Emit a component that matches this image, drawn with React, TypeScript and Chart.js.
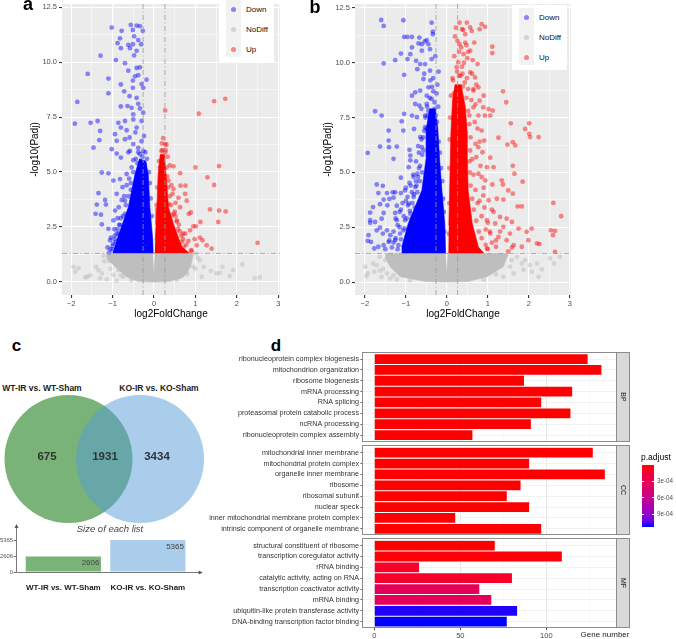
import React, { useEffect, useRef } from 'react';
import { Chart, registerables } from 'chart.js';

Chart.register(...registerables);

const FONT = "'Liberation Sans', Arial, Helvetica, sans-serif";
Chart.defaults.font.family = FONT;

// ================= Panels a / b : volcano plots =================
const FC_CUT = 0.263; // |log2FoldChange| threshold
const PADJ_CUT = 1.301; // -log10(0.05)
const volcanoXTicks = [-2, -1.5, -1, -0.5, 0, 0.5, 1, 1.5, 2, 2.5, 3];
const volcanoYTicks = [0, 1.25, 2.5, 3.75, 5, 6.25, 7.5, 8.75, 10, 11.25, 12.5];
const volcanoGroups = ['Down', 'NoDiff', 'Up'];

// saturated (overplotted) cores, outline as [x, y, x, y, ...]
const aGreyCore = [-1.15, 1.29, -0.03, 1.29, 0, 0.3, 0.03, 1.29, 0.95, 1.29, 0.88, 0.7, 0.72, 0.24, 0.4, 0.03, 0, 0, -0.4, 0.03, -0.66, 0.24, -0.94, 0.69, -1.15, 1.1];
const aBlueCore = [-1.0, 1.32, -0.02, 1.32, -0.03, 1.9, -0.1, 3.4, -0.14, 4.9, -0.2, 5.5, -0.35, 5.6, -0.46, 4.9, -0.62, 3.4, -0.9, 1.9];
const aRedCore = [0.02, 1.32, 0.85, 1.32, 0.67, 1.6, 0.47, 2.64, 0.35, 3.39, 0.29, 4.9, 0.25, 5.8, 0.15, 5.8, 0.1, 4.9, 0.07, 3.39, 0.05, 2.6, 0.03, 1.9];
// individual genes
const aBlue = [-1.02, 11.57, -0.78, 11.42, -0.82, 11.08, -0.56, 11.69, -0.42, 11.66, -0.34, 11.63, -0.51, 11.46, -0.27, 11.42, -0.48, 11.17, -0.38, 11.0, -0.62, 10.78, -0.51, 10.81, -0.31, 10.81, -0.58, 10.63, -0.42, 10.51, -0.88, 10.86, -0.8, 10.63, -1.29, 10.29, -0.92, 10.09, -1.6, 9.46, -1.1, 9.25, -0.62, 9.61, -0.42, 9.73, -0.34, 9.76, -0.46, 9.35, -0.38, 9.4, -0.51, 9.16, -0.18, 9.2, -0.26, 8.83, -0.51, 8.83, -0.8, 8.98, -1.1, 8.58, -0.72, 8.67, -0.59, 8.45, -0.42, 8.37, -1.85, 8.19, -0.8, 7.98, -0.54, 7.92, -0.34, 7.89, -0.5, 7.62, -1.91, 7.2, -1.53, 7.24, -1.36, 7.32, -1.3, 6.87, -0.86, 7.24, -0.7, 7.32, -0.5, 7.39, -0.3, 7.32, -0.94, 6.72, -0.8, 7.02, -0.42, 7.02, -0.59, 6.57, -1.32, 6.45, -1.46, 6.11, -0.9, 6.42, -0.7, 6.49, -0.5, 6.27, -0.24, 6.64, -1.02, 6.04, -0.9, 5.84, -0.58, 5.96, -0.34, 5.81, -0.8, 5.66, -0.5, 5.54, -1.26, 4.98, -1.1, 4.94, -0.98, 4.61, -0.82, 4.68, -1.34, 4.04, -1.18, 3.73, -1.38, 3.52, -1.16, 3.52, -1.41, 3.1, -1.28, 3.06, -1.26, 2.62, -0.9, 4.01, -0.78, 3.73, -0.94, 3.25, -0.98, 2.8, -1.1, 2.42, -1.04, 2.02, -1.12, 1.57, -1.0, 1.48, -0.92, 1.82, -0.86, 2.2, -0.76, 4.31, -0.66, 4.91, -0.54, 5.21, -0.22, 5.36, -0.3, 4.91, -0.62, 5.9, -0.38, 6.1, -0.28, 5.7, -0.66, 4.4, -0.72, 3.9, -0.85, 3.4, -0.88, 2.9, -0.96, 2.4, -1.06, 1.9, -1.0, 1.65, -0.95, 2.1, -0.84, 2.6, -0.7, 3.1, -0.56, 4.2, -0.4, 5.4, -0.21, 5.9, -0.3, 6.4, -0.45, 6.8, -0.66, 6.9, -0.26, 7.7, -0.38, 8.1, -0.64, 8.0, -0.3, 9.0, -0.7, 9.95, -0.48, 10.3, -1.05, 1.5, -0.98, 1.75, -0.9, 2.2, -0.82, 2.6, -0.75, 3.0, -0.68, 3.5, -0.62, 3.9, -0.56, 4.5, -0.5, 5.0, -0.44, 5.6, -0.38, 5.9, -0.26, 5.95, -0.17, 5.6, -0.12, 5.0, -0.1, 4.5, -0.08, 3.8, -0.05, 3.0, -0.6, 4.7, -0.7, 3.7, -0.8, 2.9, -0.88, 2.4, -0.95, 1.95, -1.08, 1.35];
const aRed = [0.27, 7.8, 1.08, 7.65, 1.45, 8.22, 1.72, 8.33, 0.22, 6.54, 0.27, 6.27, 0.3, 6.24, 0.22, 5.66, 0.47, 5.26, 0.63, 4.95, 1.0, 5.21, 1.57, 5.27, 1.29, 4.76, 1.45, 4.41, 0.64, 4.38, 0.76, 4.38, 0.47, 4.23, 0.45, 4.01, 0.75, 4.01, 0.59, 3.83, 1.35, 3.3, 1.57, 3.25, 1.73, 3.21, 0.84, 3.1, 0.89, 3.16, 0.35, 3.55, 0.63, 3.4, 1.55, 2.73, 1.12, 2.73, 0.95, 2.53, 1.01, 2.53, 0.87, 2.35, 0.75, 2.2, 1.11, 2.02, 1.17, 1.9, 1.27, 1.67, 1.39, 1.52, 1.03, 1.67, 2.5, 1.78, 0.83, 1.87, 0.67, 1.82, 0.55, 2.8, 0.43, 3.03, 0.79, 3.7, 0.35, 4.61, 0.18, 5.96, 0.14, 5.21, 0.38, 5.3, 0.33, 5.7, 0.52, 3.6, 0.58, 2.4, 0.66, 2.1, 0.72, 1.6, 0.9, 1.45, 0.98, 1.95, 0.5, 3.2, 0.42, 4.4, 0.28, 6.0, 0.19, 6.3, 0.9, 1.4, 0.78, 1.7, 0.7, 1.95, 0.62, 2.3, 0.55, 2.75, 0.48, 3.1, 0.41, 3.5, 0.38, 3.9, 0.34, 4.3, 0.32, 4.8, 0.3, 5.2, 0.27, 5.9, 0.2, 6.0, 0.12, 5.5, 0.08, 4.3, 0.06, 3.5, 0.7, 2.2, 0.6, 2.6, 0.52, 3.0];
const aGrey = [-1.94, 0.69, -1.82, 0.62, -1.9, 0.47, -1.61, 0.24, -1.66, 0.21, -1.54, 0.3, -1.4, 0.69, -1.34, 0.54, -1.26, 0.39, -1.3, 0.17, -1.14, 0.12, -1.08, 0.96, -0.98, 0.32, -0.9, 0.06, 1.11, 0.99, 1.2, 0.69, 1.15, 0.24, 1.37, 0.51, 1.51, 0.39, 1.59, 0.42, 1.65, 0.69, 1.83, 0.27, 1.91, 0.54, 2.13, 0.8, 2.43, 0.17, 2.55, 0.21, 1.01, 1.3, 0.87, 0.99, 0.95, 0.69, 0.79, 0.47, 0.63, 0.24, -0.74, 0.24, -0.86, 0.54, -0.94, 0.84, -1.2, 0.95, -1.05, 0.6, -0.8, 0.3, -0.55, 0.08, 0.55, 0.1, 0.8, 0.35, 1.0, 0.6, 1.05, 1.1, -1.22, 1.2];

const bGreyCore = [-1.5, 1.29, -0.03, 1.29, 0, 0.3, 0.03, 1.29, 1.5, 1.29, 1.38, 0.7, 0.98, 0.24, 0.5, 0.02, 0, 0, -0.5, 0.02, -1.14, 0.24, -1.38, 0.7, -1.5, 1.1];
const bBlueCore = [-1.1, 1.32, -0.03, 1.32, -0.05, 2.67, -0.12, 4.18, -0.18, 5.7, -0.22, 7.0, -0.28, 7.9, -0.42, 7.9, -0.5, 7.0, -0.5, 5.7, -0.61, 4.18, -0.94, 2.67, -1.1, 1.6];
const bRedCore = [0.04, 1.32, 0.9, 1.32, 0.77, 1.6, 0.62, 2.67, 0.52, 4.2, 0.5, 5.7, 0.5, 6.8, 0.45, 8.0, 0.35, 9.0, 0.2, 9.0, 0.14, 8.3, 0.1, 6.8, 0.07, 4.2, 0.05, 2.6];
const bBlue = [-1.6, 11.95, -1.54, 11.68, -1.06, 11.94, -0.37, 11.83, -0.34, 11.42, -0.34, 11.3, -1.04, 11.18, -0.96, 11.18, -0.85, 11.18, -0.67, 11.15, -0.69, 10.88, -0.61, 10.85, -0.54, 10.97, -0.49, 11.03, -0.45, 10.85, -0.85, 10.7, -0.61, 10.55, -0.89, 10.39, -0.41, 10.62, -1.12, 10.42, -1.26, 10.12, -1.54, 9.97, -0.96, 10.17, -0.75, 10.09, -0.65, 9.94, -0.53, 9.94, -0.37, 10.17, -1.04, 9.45, -0.72, 9.71, -0.41, 9.64, -0.57, 9.26, -0.45, 8.88, -0.77, 8.65, -0.65, 8.73, -0.85, 8.5, -0.49, 8.5, -0.33, 8.7, -0.77, 8.12, -0.67, 8.05, -0.49, 8.12, -0.37, 8.35, -1.75, 7.79, -1.59, 7.59, -1.04, 7.67, -0.85, 7.59, -0.73, 7.52, -0.53, 7.59, -1.1, 7.33, -1.42, 6.91, -1.06, 6.91, -0.8, 6.98, -0.53, 7.06, -1.42, 6.45, -1.63, 6.18, -1.41, 6.15, -1.22, 6.18, -1.3, 5.62, -1.93, 5.89, -0.91, 6.03, -0.89, 5.77, -0.89, 5.55, -0.65, 6.61, -0.61, 6.15, -0.93, 5.24, -0.81, 4.79, -0.91, 4.52, -1.12, 4.76, -1.71, 4.45, -1.56, 4.39, -1.67, 4.06, -1.46, 4.06, -1.32, 4.09, -1.26, 4.09, -1.12, 4.06, -1.02, 4.18, -0.96, 3.88, -1.8, 3.42, -1.87, 3.17, -1.63, 3.55, -1.54, 3.76, -1.4, 3.79, -1.3, 3.85, -1.45, 3.5, -1.22, 3.48, -1.54, 3.15, -1.12, 3.3, -1.87, 2.82, -1.87, 2.7, -1.75, 2.74, -1.59, 2.89, -1.22, 2.82, -1.26, 3.15, -1.91, 2.14, -1.93, 1.88, -1.85, 1.83, -1.77, 1.53, -1.71, 2.36, -1.63, 2.48, -1.56, 2.21, -1.46, 2.36, -1.38, 2.14, -1.67, 1.61, -1.54, 1.68, -1.42, 1.83, -1.34, 1.58, -1.26, 1.91, -1.14, 2.21, -1.18, 1.68, -1.06, 2.36, -1.02, 2.82, -0.89, 3.12, -0.93, 3.58, -0.81, 3.88, -0.77, 4.33, -0.72, 4.94, -1.2, 1.5, -1.3, 1.8, -1.15, 2.5, -1.05, 3.0, -0.95, 3.5, -0.85, 4.1, -0.75, 4.6, -0.68, 5.2, -0.6, 5.8, -0.58, 6.6, -0.5, 7.0, -0.45, 7.8, -0.3, 7.9, -0.25, 8.6, -0.4, 9.2, -0.2, 9.6, -0.28, 10.3, -0.55, 9.5, -0.62, 7.9, -0.7, 6.2, -1.0, 3.7, -1.25, 2.9, -1.4, 1.9, -1.5, 1.5, -1.12, 1.95, -1.03, 2.45, -0.98, 2.9, -0.9, 3.25, -0.84, 3.6, -0.8, 4.0, -0.74, 4.4, -0.7, 4.8, -0.65, 5.3, -0.6, 5.0, -0.57, 6.0, -0.55, 6.9, -0.52, 7.5, -0.48, 8.0, -0.42, 8.4, -0.36, 8.9, -0.3, 8.2, -0.27, 7.6, -0.24, 7.3, -0.2, 6.4, -0.17, 5.9, -0.14, 5.2, -0.11, 4.6, -0.09, 3.8, -0.07, 3.2, -0.06, 2.3, -0.72, 4.1, -0.78, 3.4, -0.86, 2.9, -0.93, 2.4, -0.66, 4.6, -0.62, 6.5, -0.47, 7.6, -0.38, 7.7, -0.33, 9.3, -0.23, 9.0, -0.21, 8.0, -0.68, 5.9, -0.75, 5.5, -0.82, 4.9, -0.88, 4.4, -1.0, 4.3, -1.08, 3.6, -1.15, 3.2, -1.2, 2.6, -1.3, 2.3, -1.25, 2.0];
const bRed = [0.31, 11.83, 0.49, 11.83, 0.57, 11.61, 0.37, 11.53, 0.85, 11.76, 0.93, 11.64, 0.8, 11.53, 0.61, 11.45, 0.45, 11.3, 0.31, 10.85, 0.45, 10.92, 0.67, 10.92, 1.11, 10.73, 1.11, 10.44, 0.41, 10.39, 0.57, 10.55, 0.5, 10.21, 0.63, 10.12, 0.28, 10.02, 0.37, 9.82, 0.75, 9.94, 0.57, 9.56, 0.33, 9.41, 0.49, 9.3, 0.69, 9.33, 0.39, 8.91, 0.77, 8.88, 0.18, 8.61, 0.65, 8.73, 1.37, 8.7, 1.45, 8.2, 0.8, 8.27, 0.89, 7.97, 1.02, 7.89, 1.12, 7.82, 0.65, 7.97, 0.77, 7.59, 0.93, 7.59, 1.06, 7.59, 0.23, 7.85, 0.18, 6.45, 0.23, 6.3, 0.85, 6.91, 0.91, 6.45, 1.26, 6.58, 1.48, 6.27, 1.56, 7.24, 1.67, 6.23, 1.61, 6.38, 1.91, 6.98, 2.01, 7.24, 2.01, 6.76, 2.03, 6.61, 2.24, 6.61, 0.77, 6.15, 0.87, 5.92, 1.06, 5.67, 0.98, 5.24, 1.14, 5.24, 1.61, 5.3, 1.65, 4.94, 0.77, 4.94, 0.85, 4.79, 0.94, 4.64, 1.34, 4.64, 1.37, 4.45, 1.85, 4.58, 1.11, 4.45, 1.5, 4.18, 1.61, 4.03, 0.89, 3.95, 1.02, 3.73, 1.22, 3.8, 1.38, 3.76, 1.73, 3.45, 1.83, 3.45, 2.6, 3.61, 2.79, 3.0, 1.14, 3.2, 1.3, 2.97, 1.46, 2.89, 1.59, 2.74, 0.98, 2.82, 1.18, 2.67, 1.38, 2.52, 1.75, 2.44, 2.07, 2.44, 1.95, 2.29, 2.54, 2.36, 2.64, 2.33, 2.59, 2.14, 1.54, 2.21, 1.06, 2.21, 1.26, 2.06, 1.46, 1.91, 1.63, 1.68, 1.99, 1.91, 2.2, 1.76, 2.26, 1.73, 1.83, 1.61, 1.59, 1.58, 2.64, 1.38, 1.2, 1.61, 0.98, 1.53, 1.0, 1.5, 1.2, 1.9, 0.95, 2.4, 0.85, 3.0, 0.75, 3.6, 0.7, 4.2, 0.65, 4.9, 0.62, 5.6, 0.7, 6.3, 0.68, 7.3, 0.55, 7.6, 0.6, 8.3, 0.52, 8.8, 0.25, 9.6, 0.15, 9.2, 0.3, 10.5, 0.2, 11.2, 0.72, 9.0, 0.9, 8.5, 1.1, 3.3, 1.3, 2.3, 1.5, 1.4, 0.95, 1.7, 0.85, 2.0, 0.78, 2.3, 0.72, 2.8, 0.66, 3.3, 0.62, 3.8, 0.58, 4.4, 0.56, 5.0, 0.55, 5.5, 0.57, 6.0, 0.58, 6.6, 0.55, 7.2, 0.52, 7.8, 0.48, 8.4, 0.44, 9.1, 0.38, 9.5, 0.3, 9.4, 0.24, 9.8, 0.18, 10.3, 0.14, 9.3, 0.1, 8.5, 0.08, 7.5, 0.07, 6.5, 0.06, 5.2, 0.06, 3.6, 0.05, 2.2, 0.42, 10.0, 0.35, 10.7, 0.26, 11.0, 0.22, 11.6, 0.4, 11.5, 0.52, 10.5, 0.62, 9.5, 0.7, 8.1, 0.75, 7.0, 0.8, 6.4, 0.72, 5.7, 0.82, 5.3, 0.9, 4.3, 0.8, 3.7, 0.92, 3.4, 1.0, 2.7, 1.05, 2.3, 1.1, 1.8, 0.65, 8.8, 0.48, 10.8];
const bGrey = [-1.99, 0.7, -1.93, 0.39, -1.96, 0.27, -1.8, 0.85, -1.77, 0.47, -1.71, 0.77, -1.63, 0.52, -1.59, 0.24, -1.46, 0.39, -1.38, 0.17, -1.22, 0.12, -1.5, 1.0, -1.64, 1.15, 1.71, 1.15, 1.83, 0.85, 1.91, 1.0, 2.03, 0.77, 2.2, 0.85, 2.07, 0.47, 2.32, 0.58, 2.52, 1.08, 2.62, 0.85, 2.76, 1.15, 2.24, 0.24, 1.63, 0.39, 1.54, 0.7, 1.87, 0.55, 1.38, 0.24, -1.55, 0.6, -1.3, 0.3, -0.9, 0.08, 0.9, 0.1, 1.2, 0.35, 1.58, 1.0];

// ================= Panel c : Venn + set sizes =================
const vennSets = ['WT-IR vs. WT-Sham', 'KO-IR vs. KO-Sham'];
const vennRegions = [675, 1931, 3434]; // only first, shared, only second
const setSizes = [2606, 5365];

// ================= Panel d : GO enrichment =================
const bpTerms = ['ribonucleoprotein complex biogenesis', 'mitochondrion organization', 'ribosome biogenesis', 'mRNA processing', 'RNA splicing', 'proteasomal protein catabolic process', 'ncRNA processing', 'ribonucleoprotein complex assembly'];
const bpCounts = [124, 132, 87, 115, 97, 114, 91, 57];
const bpPadj = [1e-9, 1e-9, 1e-8, 1e-8, 1e-7, 1e-8, 1e-7, 2e-7];
const ccTerms = ['mitochondrial inner membrane', 'mitochondrial protein complex', 'organelle inner membrane', 'ribosome', 'ribosomal subunit', 'nuclear speck', 'inner mitochondrial membrane protein complex', 'intrinsic component of organelle membrane'];
const ccCounts = [127, 90, 134, 85, 77, 90, 47, 97];
const ccPadj = [1e-9, 1e-9, 1e-9, 1e-8, 1e-8, 1e-7, 2e-7, 3e-7];
const mfTerms = ['structural constituent of ribosome', 'transcription coregulator activity', 'rRNA binding', 'catalytic activity, acting on RNA', 'transcription coactivator activity', 'mRNA binding', 'ubiquitin-like protein transferase activity', 'DNA-binding transcription factor binding'];
const mfCounts = [70, 109, 26, 80, 61, 68, 83, 77];
const mfPadj = [2e-7, 1.5e-5, 1.1e-4, 1.2e-4, 3.4e-4, 3.3e-4, 1.125e-3, 1.136e-3];
const geneTicks = [0, 25, 50, 75, 100, 125];
const pTicks = [3e-4, 6e-4, 9e-4];
const pTickLabels = ['3e-04', '6e-04', '9e-04'];

// ---------- helpers ----------
const toPts = (a: number[]) => {
  const r: any[] = [];
  for (let i = 0; i < a.length; i += 2) r.push({ x: a[i], y: a[i + 1] });
  return r;
};

function srgbToLin(c: number) { c /= 255; return c <= 0.04045 ? c / 12.92 : Math.pow((c + 0.055) / 1.055, 2.4); }
function linToSrgb(c: number) { const v = c <= 0.0031308 ? 12.92 * c : 1.055 * Math.pow(Math.max(c, 0), 1 / 2.4) - 0.055; return Math.round(Math.max(0, Math.min(1, v)) * 255); }
function rgbToLab(rgb: number[]) {
  const R = srgbToLin(rgb[0]), G = srgbToLin(rgb[1]), B = srgbToLin(rgb[2]);
  const X = (0.4124 * R + 0.3576 * G + 0.1805 * B) / 0.95047;
  const Y = 0.2126 * R + 0.7152 * G + 0.0722 * B;
  const Z = (0.0193 * R + 0.1192 * G + 0.9505 * B) / 1.08883;
  const f = (t: number) => (t > 0.008856 ? Math.cbrt(t) : 7.787 * t + 16 / 116);
  return [116 * f(Y) - 16, 500 * (f(X) - f(Y)), 200 * (f(Y) - f(Z))];
}
function labToRgb(lab: number[]) {
  const fy = (lab[0] + 16) / 116, fx = fy + lab[1] / 500, fz = fy - lab[2] / 200;
  const inv = (t: number) => (t * t * t > 0.008856 ? t * t * t : (t - 16 / 116) / 7.787);
  const X = inv(fx) * 0.95047, Y = inv(fy), Z = inv(fz) * 1.08883;
  const R = 3.2406 * X - 1.5372 * Y - 0.4986 * Z;
  const G = -0.9689 * X + 1.8758 * Y + 0.0415 * Z;
  const B = 0.0557 * X - 0.204 * Y + 1.057 * Z;
  return [linToSrgb(R), linToSrgb(G), linToSrgb(B)];
}
const LAB_LOW = rgbToLab([255, 0, 0]);
const LAB_HIGH = rgbToLab([0, 0, 255]);
const allP = [...bpPadj, ...ccPadj, ...mfPadj];
const P_MIN = Math.min(...allP);
const P_MAX = Math.max(...allP);
function colorAt(t: number) {
  const lab = LAB_LOW.map((v, i) => v + (LAB_HIGH[i] - v) * t);
  const c = labToRgb(lab);
  return `rgb(${c[0]},${c[1]},${c[2]})`;
}
const pColor = (p: number) => colorAt((p - P_MIN) / (P_MAX - P_MIN));

const panelBg = (color: string) => ({
  id: 'panelBg',
  beforeDraw(chart: any) {
    const { ctx, chartArea: a } = chart;
    ctx.save();
    ctx.fillStyle = color;
    ctx.fillRect(a.left, a.top, a.right - a.left, a.bottom - a.top);
    ctx.restore();
  },
});

function ChartBox({ left, top, width, height, make }: any) {
  const ref = useRef<HTMLCanvasElement>(null);
  useEffect(() => {
    const chart = new Chart(ref.current as HTMLCanvasElement, make());
    return () => chart.destroy();
  }, []);
  return <canvas ref={ref} width={width} height={height} style={{ position: 'absolute', left, top, width, height }} />;
}

function Txt({ x, y, children, size = 8, weight = 'normal', italic = false, color = '#000', anchor = 'middle' }: any) {
  const tx = anchor === 'start' ? '0' : anchor === 'end' ? '-100%' : '-50%';
  return (
    <div style={{ position: 'absolute', left: x, top: y, transform: `translate(${tx}, -50%)`, fontSize: size, fontWeight: weight, fontStyle: italic ? 'italic' : 'normal', color, whiteSpace: 'nowrap', lineHeight: 1, fontFamily: FONT }}>
      {children}
    </div>
  );
}

// ---------- volcano ----------
function volcanoConfig(s: any, d: any) {
  const [pl, pt, pr, pb] = s.plot;
  const isMajX = (v: number) => Math.abs(v - Math.round(v)) < 1e-9;
  const isMajY = (v: number) => Math.abs(v / 2.5 - Math.round(v / 2.5)) < 1e-9;
  const poly = (arr: number[], color: string, order: number) => ({ type: 'line', data: toPts(arr), fill: 'shape', backgroundColor: color, borderColor: color, borderWidth: 0.6, pointRadius: 0, tension: 0, order });
  const pts = (arr: number[], color: string, order: number) => ({ type: 'scatter', data: toPts(arr), backgroundColor: color, borderWidth: 0, pointRadius: 2.4, order });
  const seg = (a: any, b: any) => ({ type: 'line', data: [a, b], borderColor: '#9A9A9A', borderWidth: 0.8, borderDash: [5, 2.5, 1, 2.5], pointRadius: 0, fill: false, order: 0 });
  const fmt = (v: number) => (v < 0 ? '\u2212' + Math.abs(v) : String(v));
  return {
    type: 'scatter',
    data: {
      datasets: [
        poly(d.greyCore, '#BEBEBE', 10),
        pts(d.grey, 'rgba(190,190,190,0.5)', 9),
        poly(d.blueCore, '#0000FF', 8),
        pts(d.blue, 'rgba(0,0,255,0.45)', 7),
        poly(d.redCore, '#FF0000', 6),
        pts(d.red, 'rgba(255,0,0,0.45)', 5),
        seg({ x: -FC_CUT, y: s.yr[0] }, { x: -FC_CUT, y: s.yr[1] }),
        seg({ x: FC_CUT, y: s.yr[0] }, { x: FC_CUT, y: s.yr[1] }),
        seg({ x: s.xr[0], y: PADJ_CUT }, { x: s.xr[1], y: PADJ_CUT }),
      ],
    },
    options: {
      responsive: false, maintainAspectRatio: false, animation: false, events: [],
      layout: { padding: { left: 0, top: pt - s.top, right: s.left + s.width - pr, bottom: 0 } },
      plugins: { legend: { display: false }, tooltip: { enabled: false } },
      scales: {
        x: {
          type: 'linear', min: s.xr[0], max: s.xr[1],
          afterBuildTicks: (sc: any) => { sc.ticks = volcanoXTicks.map((v) => ({ value: v })); },
          afterFit: (sc: any) => { sc.height = s.top + s.height - pb; sc.paddingLeft = 0; sc.paddingRight = 0; },
          ticks: { autoSkip: false, maxRotation: 0, padding: 1, font: { size: 7.5 }, color: '#4D4D4D', callback: (v: number) => (isMajX(v) ? fmt(v) : '') },
          grid: { color: '#FFFFFF', lineWidth: (c: any) => (c.tick && isMajX(c.tick.value) ? 1.1 : 0.5), tickColor: (c: any) => (c.tick && isMajX(c.tick.value) ? '#333333' : 'rgba(0,0,0,0)'), tickLength: 3 },
          border: { display: false },
          title: { display: true, text: 'log2FoldChange', font: { size: 10 }, color: '#000', padding: { top: 0, bottom: 2 } },
        },
        y: {
          type: 'linear', min: s.yr[0], max: s.yr[1],
          afterBuildTicks: (sc: any) => { sc.ticks = volcanoYTicks.map((v) => ({ value: v })); },
          afterFit: (sc: any) => { sc.width = pl - s.left; sc.paddingTop = 0; sc.paddingBottom = 0; },
          ticks: { autoSkip: false, padding: 2, font: { size: 7.5 }, color: '#4D4D4D', callback: (v: number) => (isMajY(v) ? v.toFixed(1) : '') },
          grid: { color: '#FFFFFF', lineWidth: (c: any) => (c.tick && isMajY(c.tick.value) ? 1.1 : 0.5), tickColor: (c: any) => (c.tick && isMajY(c.tick.value) ? '#333333' : 'rgba(0,0,0,0)'), tickLength: 3 },
          border: { display: false },
          title: { display: true, text: '-log10(Padj)', font: { size: 10 }, color: '#000', padding: { top: s.yTitlePad, bottom: 0 } },
        },
      },
    },
    plugins: [panelBg('#EBEBEB')],
  };
}

const legendColors = ['rgba(0,0,255,0.45)', 'rgba(190,190,190,0.6)', 'rgba(255,0,0,0.45)'];
function VolcanoLegend({ x, y }: any) {
  return (
    <div style={{ position: 'absolute', left: x, top: y, width: 55, height: 65, background: '#fff' }}>
      <div style={{ position: 'absolute', left: 7, top: 3, width: 15, height: 57, background: '#F2F2F2' }} />
      {volcanoGroups.map((g, i) => (
        <React.Fragment key={g}>
          <div style={{ position: 'absolute', left: 12, top: 10 + i * 20, width: 5, height: 5, borderRadius: '50%', background: legendColors[i] }} />
          <div style={{ position: 'absolute', left: 27, top: 8 + i * 20, fontSize: 8, lineHeight: '9px', color: '#111', whiteSpace: 'nowrap', fontFamily: FONT }}>{g}</div>
        </React.Fragment>
      ))}
    </div>
  );
}

// ---------- venn ----------
const VENN_D = 0.559; // half distance between circle centres, in radius units
const GREEN = 'rgb(122,179,120)';
const BLUE_A = 'rgba(85,155,215,0.5)';
const BLUE_SOLID = 'rgb(170,205,235)';
function vennConfig() {
  const radius = (c: any) => { const s = c.chart.scales.x; return s.getPixelForValue(1) - s.getPixelForValue(0); };
  return {
    type: 'scatter',
    data: {
      datasets: [
        { data: [{ x: -VENN_D, y: 0 }], backgroundColor: GREEN, borderWidth: 0, pointRadius: radius, order: 2, clip: false },
        { data: [{ x: VENN_D, y: 0 }], backgroundColor: BLUE_A, borderWidth: 0, pointRadius: radius, order: 1, clip: false },
      ],
    },
    options: {
      responsive: false, maintainAspectRatio: false, animation: false, events: [],
      layout: { padding: 0 },
      plugins: { legend: { display: false }, tooltip: { enabled: false } },
      scales: { x: { display: false, min: -1.629, max: 1.652 }, y: { display: false, min: -1.047, max: 1.047 } },
    },
  };
}

const arrowAxes = {
  id: 'arrowAxes',
  afterDraw(chart: any) {
    const { ctx, chartArea: a } = chart;
    ctx.save();
    ctx.strokeStyle = '#555'; ctx.fillStyle = '#555'; ctx.lineWidth = 0.8;
    const L = Math.round(a.left) + 0.5, B = Math.round(a.bottom) + 0.5;
    ctx.beginPath(); ctx.moveTo(L, B); ctx.lineTo(L, a.top + 2); ctx.stroke();
    ctx.beginPath(); ctx.moveTo(L, a.top); ctx.lineTo(L - 2, a.top + 4); ctx.lineTo(L + 2, a.top + 4); ctx.closePath(); ctx.fill();
    ctx.beginPath(); ctx.moveTo(L, B); ctx.lineTo(a.right - 2, B); ctx.stroke();
    ctx.beginPath(); ctx.moveTo(a.right, B); ctx.lineTo(a.right - 4, B - 2); ctx.lineTo(a.right - 4, B + 2); ctx.closePath(); ctx.fill();
    ctx.restore();
  },
};
const barValueLabels = {
  id: 'barValueLabels',
  afterDatasetsDraw(chart: any) {
    const { ctx } = chart;
    const meta = chart.getDatasetMeta(0);
    ctx.save();
    ctx.fillStyle = '#444'; ctx.font = `8px ${FONT}`; ctx.textAlign = 'right'; ctx.textBaseline = 'top';
    meta.data.forEach((el: any, i: number) => {
      ctx.fillText(String(setSizes[i]), el.x + el.width / 2 - 1.5, el.y + 2.5);
    });
    ctx.restore();
  },
};
function setSizeConfig() {
  const box = { left: 0, top: 518, width: 210, height: 77 };
  const plot = { l: 16, t: 524, r: 202.7, b: 572 };
  return {
    type: 'bar',
    data: {
      datasets: [{ data: setSizes.map((v, i) => ({ x: i + 1, y: v })), backgroundColor: [GREEN, BLUE_SOLID], borderWidth: 0, barPercentage: 0.89, categoryPercentage: 1 }],
    },
    options: {
      responsive: false, maintainAspectRatio: false, animation: false, events: [],
      layout: { padding: { left: 0, top: plot.t - box.top, right: box.left + box.width - plot.r, bottom: 0 } },
      plugins: { legend: { display: false }, tooltip: { enabled: false } },
      scales: {
        x: {
          type: 'linear', offset: false, min: 0.4396, max: 2.649,
          afterBuildTicks: (sc: any) => { sc.ticks = vennSets.map((_, i) => ({ value: i + 1 })); },
          afterFit: (sc: any) => { sc.height = box.top + box.height - plot.b; sc.paddingLeft = 0; sc.paddingRight = 0; },
          ticks: { autoSkip: false, maxRotation: 0, padding: 3, font: { size: 8, weight: 'bold' }, color: '#222', callback: (v: number) => vennSets[v - 1] || '' },
          grid: { display: false }, border: { display: false },
        },
        y: {
          type: 'linear', min: 0, max: 8050,
          afterBuildTicks: (sc: any) => { sc.ticks = [0, ...setSizes].map((v) => ({ value: v })); },
          afterFit: (sc: any) => { sc.width = plot.l - box.left; sc.paddingTop = 0; sc.paddingBottom = 0; },
          ticks: { autoSkip: false, padding: 0.5, font: { size: 5.8 }, color: '#555', callback: (v: number) => String(v) },
          grid: { display: true, drawOnChartArea: false, drawTicks: true, tickLength: 2.5, color: '#555', lineWidth: 0.8 },
          border: { display: false },
        },
      },
    },
    plugins: [arrowAxes, barValueLabels],
  };
}

// ---------- GO facets ----------
const D_LEFT = 190, D_WIDTH = 445, D_PLOT_L = 363, D_PLOT_R = 616;
const facetDecor = (label: string) => ({
  id: 'facetDecor',
  afterDraw(chart: any) {
    const { ctx, chartArea: a } = chart;
    ctx.save();
    ctx.strokeStyle = '#8C8C8C'; ctx.lineWidth = 1;
    const L = Math.round(a.left) - 0.5, R = Math.round(a.right) + 0.5;
    const T = Math.round(a.top) - 1.5, Bm = Math.round(a.bottom) + 0.5;
    ctx.strokeRect(L, T, R - L, Bm - T);
    const sx = R, sw = 13;
    ctx.fillStyle = '#D9D9D9';
    ctx.fillRect(sx, T, sw, Bm - T);
    ctx.strokeRect(sx, T, sw, Bm - T);
    ctx.translate(sx + sw / 2, (T + Bm) / 2);
    ctx.rotate(Math.PI / 2);
    ctx.fillStyle = '#1A1A1A'; ctx.font = `7px ${FONT}`; ctx.textAlign = 'center'; ctx.textBaseline = 'middle';
    ctx.fillText(label, 0, 0);
    ctx.restore();
  },
});
function facetConfig(terms: string[], counts: number[], padj: number[], label: string, f: any) {
  const isMaj = (v: number) => v % 50 === 0;
  return {
    type: 'bar',
    data: { labels: terms, datasets: [{ data: counts, backgroundColor: padj.map(pColor), borderWidth: 0, barPercentage: 0.9, categoryPercentage: 1 }] },
    options: {
      indexAxis: 'y', responsive: false, maintainAspectRatio: false, animation: false, events: [],
      layout: { padding: { left: 0, top: f.chartTop - f.top, right: D_LEFT + D_WIDTH - D_PLOT_R, bottom: 0 } },
      plugins: { legend: { display: false }, tooltip: { enabled: false } },
      scales: {
        x: {
          type: 'linear', min: -6.6, max: 140.5,
          afterBuildTicks: (sc: any) => { sc.ticks = geneTicks.map((v) => ({ value: v })); },
          afterFit: (sc: any) => { sc.height = f.top + f.height - (f.chartTop + f.chartH); sc.paddingLeft = 0; sc.paddingRight = 0; },
          ticks: { display: f.showX, autoSkip: false, maxRotation: 0, padding: 1, font: { size: 7.5 }, color: '#4D4D4D', callback: (v: number) => (isMaj(v) ? String(v) : '') },
          grid: { color: (c: any) => (c.tick && isMaj(c.tick.value) ? '#E6E6E6' : '#F2F2F2'), lineWidth: (c: any) => (c.tick && isMaj(c.tick.value) ? 0.9 : 0.5), drawTicks: f.showX, tickLength: 3, tickColor: (c: any) => (c.tick && isMaj(c.tick.value) ? '#333' : 'rgba(0,0,0,0)') },
          border: { display: false },
        },
        y: {
          type: 'category', offset: true,
          afterFit: (sc: any) => { sc.width = D_PLOT_L - D_LEFT; sc.paddingTop = 0; sc.paddingBottom = 0; },
          ticks: { autoSkip: false, padding: 1.5, font: { size: 7.2 }, color: '#333' },
          grid: { offset: false, color: '#EEEEEE', lineWidth: 0.8, tickLength: 2.5, tickColor: '#333' },
          border: { display: false },
        },
      },
    },
    plugins: [facetDecor(label)],
  };
}
const FACET_H = 86.9;
const facets = [
  { top: 348, height: 98, chartTop: 353.6, chartH: FACET_H, showX: false },
  { top: 442, height: 98, chartTop: 447.3, chartH: FACET_H, showX: false },
  { top: 535, height: 104, chartTop: 540.2, chartH: FACET_H, showX: true },
];

function ColorBar() {
  const top = 465, h = 62, left = 642, w = 12;
  const stops = [0, 0.1, 0.2, 0.3, 0.4, 0.5, 0.6, 0.7, 0.8, 0.9, 1].map((t) => `${colorAt(t)} ${t * 100}%`).join(',');
  return (
    <>
      <Txt x={641} y={457} size={8.5} anchor="start">p.adjust</Txt>
      <div style={{ position: 'absolute', left, top, width: w, height: h, background: `linear-gradient(to bottom, ${stops})` }} />
      {pTicks.map((p, i) => {
        const y = top + ((p - P_MIN) / (P_MAX - P_MIN)) * h;
        return (
          <React.Fragment key={i}>
            <div style={{ position: 'absolute', left, top: y - 0.5, width: 2.4, height: 1, background: '#fff' }} />
            <div style={{ position: 'absolute', left: left + w - 2.4, top: y - 0.5, width: 2.4, height: 1, background: '#fff' }} />
            <Txt x={657} y={y} size={6.3} color="#4D4D4D" anchor="start">{pTickLabels[i]}</Txt>
          </React.Fragment>
        );
      })}
    </>
  );
}

export default function App() {
  const aSpec = { left: 0, top: 0, width: 290, height: 322, plot: [62, 2, 280, 295], xr: [-2.22, 3.04], yr: [-0.59, 12.64], yTitlePad: 29.5 };
  const bSpec = { left: 293, top: 0, width: 290, height: 322, plot: [355, 3, 571, 295], xr: [-2.24, 3.03], yr: [-0.59, 12.68], yTitlePad: 29.5 };
  return (
    <div style={{ position: 'absolute', left: 0, top: 0, width: 676, height: 639, background: '#fff', overflow: 'hidden', fontFamily: FONT }}>
      <ChartBox left={aSpec.left} top={aSpec.top} width={aSpec.width} height={aSpec.height} make={() => volcanoConfig(aSpec, { greyCore: aGreyCore, grey: aGrey, blueCore: aBlueCore, blue: aBlue, redCore: aRedCore, red: aRed })} />
      <ChartBox left={bSpec.left} top={bSpec.top} width={bSpec.width} height={bSpec.height} make={() => volcanoConfig(bSpec, { greyCore: bGreyCore, grey: bGrey, blueCore: bBlueCore, blue: bBlue, redCore: bRedCore, red: bRed })} />
      <VolcanoLegend x={219} y={-3} />
      <VolcanoLegend x={512} y={5} />
      <Txt x={28} y={4} size={18} weight="bold">a</Txt>
      <Txt x={315} y={7} size={18} weight="bold">b</Txt>

      <Txt x={16.5} y={344.5} size={17} weight="bold">c</Txt>
      <Txt x={42} y={387.7} size={8.5} weight="bold" color="#222">{vennSets[0]}</Txt>
      <Txt x={159} y={387.7} size={8.5} weight="bold" color="#222">{vennSets[1]}</Txt>
      <ChartBox left={0} top={392} width={210} height={134} make={vennConfig} />
      <Txt x={47} y={457} size={11.5} weight="bold" color="#333">{vennRegions[0]}</Txt>
      <Txt x={105} y={457} size={11.5} weight="bold" color="#333">{vennRegions[1]}</Txt>
      <Txt x={157} y={457} size={11.5} weight="bold" color="#333">{vennRegions[2]}</Txt>
      <Txt x={110} y={529} size={9.5} italic color="#444">Size of each list</Txt>
      <ChartBox left={0} top={518} width={210} height={77} make={setSizeConfig} />

      <Txt x={276} y={345} size={17} weight="bold">d</Txt>
      <ChartBox left={D_LEFT} top={facets[0].top} width={D_WIDTH} height={facets[0].height} make={() => facetConfig(bpTerms, bpCounts, bpPadj, 'BP', facets[0])} />
      <ChartBox left={D_LEFT} top={facets[1].top} width={D_WIDTH} height={facets[1].height} make={() => facetConfig(ccTerms, ccCounts, ccPadj, 'CC', facets[1])} />
      <ChartBox left={D_LEFT} top={facets[2].top} width={D_WIDTH} height={facets[2].height} make={() => facetConfig(mfTerms, mfCounts, mfPadj, 'MF', facets[2])} />
      <Txt x={605} y={634.5} size={8} color="#1A1A1A">Gene number</Txt>
      <ColorBar />
    </div>
  );
}
